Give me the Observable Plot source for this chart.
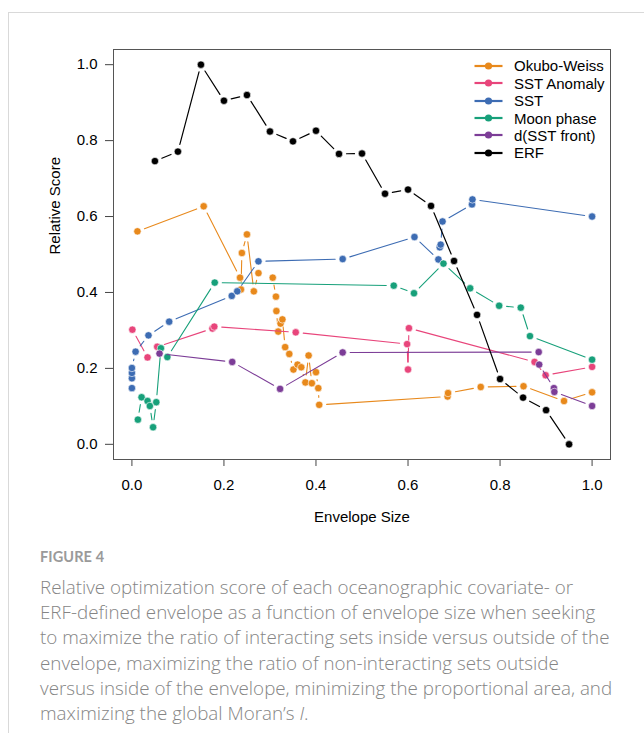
<!DOCTYPE html>
<html>
<head>
<meta charset="utf-8">
<script src="https://cdn.jsdelivr.net/npm/d3@7"></script>
<script src="https://cdn.jsdelivr.net/npm/@observablehq/plot@0.6"></script>
<style>
  html, body { margin: 0; padding: 0; background: #fff; }
  #page { position: relative; width: 644px; height: 733px; overflow: hidden; background: #fff; }
  #card { position: absolute; left: 8px; top: 12px; right: -2px; bottom: -2px;
          border-left: 1px solid #d9d9d9; border-top: 1px solid #d9d9d9; }
  #chart { position: absolute; left: 0; top: 0; }
  #chart svg text { font-family: "Liberation Sans", Arial, sans-serif !important; font-size: 15px !important; fill: #000; }
  #legend { position: absolute; left: 474px; top: 57px; font-family: "Liberation Sans", Arial, sans-serif;
            font-size: 15px; color: #000; }
  #legend .row { display: flex; align-items: center; height: 17.45px; }
  #legend .row span { margin-left: 11px; }
  #figlabel { position: absolute; left: 40px; top: 548px; font-family: Lato, "Open Sans", sans-serif;
              font-size: 14.5px; font-weight: 700; color: #9a9a9a; letter-spacing: 0.1px; }
  #caption { position: absolute; left: 40px; top: 575px; font-family: "Open Sans", Lato, sans-serif;
             font-size: 18.8px; font-weight: 300; line-height: 25.2px; color: #858585; white-space: nowrap; }
</style>
</head>
<body>
<div id="page">
  <div id="card"></div>
  <div id="chart"></div>
  <div id="legend"></div>
  <div id="figlabel">FIGURE 4</div>
  <div id="caption">Relative optimization score of each oceanographic covariate- or<br>ERF-defined envelope as a function of envelope size when seeking<br>to maximize the ratio of interacting sets inside versus outside of the<br>envelope, maximizing the ratio of non-interacting sets outside<br>versus inside of the envelope, minimizing the proportional area, and<br>maximizing the global Moran’s <i>I</i>.</div>
</div>
<script>
// ---- Data ----
const seriesNames = ["Okubo-Weiss", "SST Anomaly", "SST", "Moon phase", "d(SST front)", "ERF"];
const seriesColors = ["#E8891C", "#E8457B", "#3D6CB3", "#17A07A", "#7C3D97", "#000000"];

const okuboX = [0.012,0.156,0.235,0.237,0.239,0.250,0.265,0.275,0.306,0.313,0.314,0.318,0.323,0.327,0.333,0.342,0.351,0.360,0.368,0.377,0.384,0.391,0.400,0.405,0.407,0.686,0.687,0.758,0.851,0.939,1.0];
const okuboY = [0.561,0.627,0.439,0.408,0.504,0.553,0.403,0.451,0.439,0.389,0.351,0.297,0.318,0.329,0.256,0.238,0.197,0.210,0.203,0.163,0.234,0.161,0.190,0.148,0.104,0.126,0.135,0.151,0.153,0.114,0.137];

const sstAnomX = [0.001,0.034,0.055,0.175,0.179,0.356,0.598,0.600,0.602,0.875,0.899,1.0];
const sstAnomY = [0.302,0.229,0.257,0.305,0.310,0.295,0.264,0.197,0.306,0.217,0.182,0.204];

const sstX = [0,0,0,0,0.008,0.036,0.081,0.217,0.229,0.275,0.458,0.614,0.666,0.669,0.671,0.675,0.739,0.740,1.0];
const sstY = [0.148,0.174,0.188,0.201,0.244,0.287,0.323,0.391,0.403,0.482,0.488,0.546,0.487,0.519,0.526,0.587,0.632,0.645,0.600];

const moonX = [0.013,0.021,0.034,0.039,0.046,0.053,0.063,0.077,0.180,0.569,0.613,0.677,0.735,0.798,0.845,0.865,1.0];
const moonY = [0.065,0.124,0.114,0.101,0.045,0.111,0.253,0.230,0.426,0.418,0.398,0.476,0.411,0.365,0.360,0.285,0.223];

const frontX = [0.060,0.218,0.322,0.458,0.884,0.885,0.917,0.918,1.0];
const frontY = [0.239,0.217,0.146,0.242,0.243,0.210,0.148,0.138,0.101];

const erfX = [0.05,0.10,0.15,0.20,0.25,0.30,0.35,0.40,0.45,0.50,0.55,0.60,0.65,0.70,0.75,0.80,0.85,0.90,0.95];
const erfY = [0.746,0.771,1.0,0.905,0.920,0.824,0.798,0.826,0.765,0.766,0.660,0.671,0.628,0.483,0.341,0.172,0.123,0.090,0.0];

const xTicks = [0, 0.2, 0.4, 0.6, 0.8, 1.0];
const yTicks = [0, 0.2, 0.4, 0.6, 0.8, 1.0];
const xTitle = "Envelope Size";
const yTitle = "Relative Score";

// ---- Build tables ----
const seriesXY = [[okuboX, okuboY], [sstAnomX, sstAnomY], [sstX, sstY], [moonX, moonY], [frontX, frontY], [erfX, erfY]];
const seriesData = seriesXY.map(([xs, ys], k) => ({
  name: seriesNames[k],
  color: seriesColors[k],
  points: xs.map((x, i) => ({x, y: ys[i]})),
  segments: xs.slice(1).map((x, i) => ({x1: xs[i], y1: ys[i], x2: x, y2: ys[i + 1]}))
}));

const marks = [];
for (const s of seriesData) {
  marks.push(Plot.arrow(s.segments, {
    x1: "x1", y1: "y1", x2: "x2", y2: "y2",
    stroke: s.color, strokeWidth: s.name === "ERF" ? 1.2 : 1.1,
    headLength: 0, insetStart: 7.5, insetEnd: 7.5
  }));
  marks.push(Plot.dot(s.points, {
    x: "x", y: "y", r: 3.7, fill: s.color, stroke: "#fff", strokeWidth: 0.6
  }));
}

const plot = Plot.plot({
  width: 644,
  height: 540,
  marginLeft: 113,
  marginRight: 34,
  marginTop: 49,
  marginBottom: 81,
  style: {fontFamily: "'Liberation Sans', Arial, sans-serif", fontSize: "15px", color: "#000", background: "transparent"},
  x: {domain: [-0.04, 1.04]},
  y: {domain: [-0.04, 1.04]},
  marks: [
    Plot.axisX({ticks: xTicks, tickFormat: d3.format(".1f"), tickSize: 7, tickPadding: 13, stroke: "#444", label: null, fontSize: 15}),
    Plot.axisY({ticks: yTicks, tickFormat: d3.format(".1f"), tickSize: 8, tickPadding: 8, stroke: "#444", label: null, fontSize: 15}),
    Plot.text([xTitle], {frameAnchor: "bottom", dy: 62, text: d => d, fontSize: 15}),
    Plot.text([yTitle], {frameAnchor: "left", dx: -58, rotate: -90, text: d => d, fontSize: 15}),
    ...marks,
    Plot.frame({stroke: "#555", strokeWidth: 1})
  ]
});
document.getElementById("chart").appendChild(plot);

// ---- Legend ----
const legend = document.getElementById("legend");
for (const s of seriesData) {
  const row = document.createElement("div");
  row.className = "row";
  row.innerHTML = `<svg width="29" height="10"><line x1="0.5" y1="5" x2="28.5" y2="5" stroke="${s.color}" stroke-width="2.2"/><circle cx="14.5" cy="5" r="3.6" fill="${s.color}"/></svg><span>${s.name}</span>`;
  legend.appendChild(row);
}
</script>
</body>
</html>
